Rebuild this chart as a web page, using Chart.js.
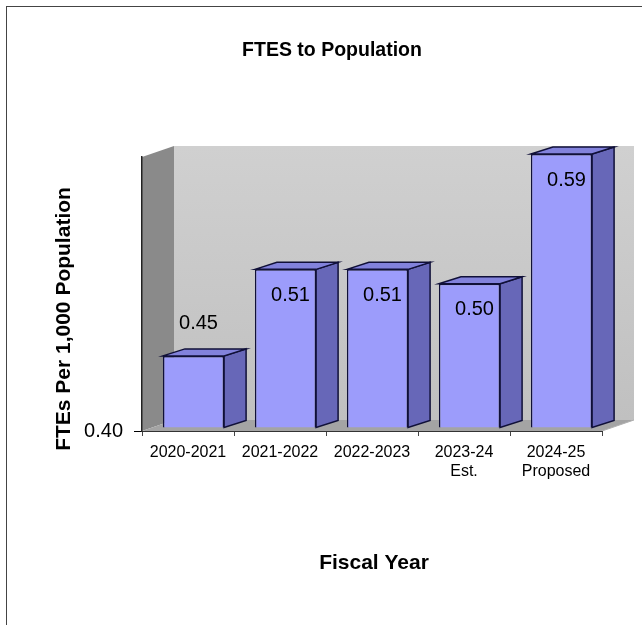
<!DOCTYPE html>
<html>
<head>
<meta charset="utf-8">
<script src="https://cdn.jsdelivr.net/npm/chart.js@4/dist/chart.umd.min.js"></script>
<style>
  html, body { margin: 0; padding: 0; background: #fff; overflow: hidden; }
  #frame { position: absolute; left: 6px; top: 6px; width: 700px; height: 700px; border: 1px solid #444; }
  #wrap { position: absolute; left: 0; top: 0; width: 642px; height: 625px; }
</style>
</head>
<body>
<div id="frame"></div>
<div id="wrap"><canvas id="chartftepopulation" width="642" height="625"></canvas></div>
<script>
var years = ['2020-2021', '2021-2022', '2022-2023', ['2023-24', 'Est.'], ['2024-25', 'Proposed']];
var ftes = [0.45, 0.51, 0.51, 0.50, 0.59];
var yTicks = [0.40];
var yMin = 0.40;
var yMax = 0.59;
var chartTitle = 'FTES to Population';
var yTitle = 'FTEs Per 1,000 Population';
var xTitle = 'Fiscal Year';

var fam = '"Liberation Sans", Arial, sans-serif';
var wall = { dx: 32, dy: -11 };
var box = { dx: 22, dy: -7, sx: 5.5, sy: -3 };

function poly(ctx, pts, fill, stroke) {
    ctx.beginPath();
    ctx.moveTo(pts[0][0], pts[0][1]);
    for (var i = 1; i < pts.length; i++) ctx.lineTo(pts[i][0], pts[i][1]);
    ctx.closePath();
    if (fill) { ctx.fillStyle = fill; ctx.fill(); }
    if (stroke) { ctx.strokeStyle = stroke; ctx.lineWidth = 1.5; ctx.stroke(); }
}

// walls, floor, bar sides and tops, labels, titles
const threeD = {
    id: 'threeD',
    beforeDraw: function(chart) {
        const ctx = chart.ctx, a = chart.chartArea;
        ctx.save();
        var g = ctx.createLinearGradient(0, a.top + wall.dy, 0, a.bottom + wall.dy);
        g.addColorStop(0, '#d0d0d0');
        g.addColorStop(1, '#c0c0c0');
        ctx.fillStyle = g;
        ctx.fillRect(a.left + wall.dx, a.top + wall.dy, a.right - a.left, a.bottom - a.top);
        poly(ctx, [[a.left, a.top], [a.left + wall.dx, a.top + wall.dy], [a.left + wall.dx, a.bottom + wall.dy], [a.left, a.bottom]], '#8a8a8a');
        poly(ctx, [[a.left, a.bottom], [a.right, a.bottom], [a.right + wall.dx, a.bottom + wall.dy], [a.left + wall.dx, a.bottom + wall.dy]], '#a4a4a4');
        ctx.strokeStyle = '#b0b0b0';
        ctx.lineWidth = 1;
        ctx.beginPath();
        ctx.moveTo(a.right, a.bottom);
        ctx.lineTo(a.right + wall.dx, a.bottom + wall.dy);
        ctx.stroke();
        ctx.restore();
    },
    beforeDatasetsDraw: function(chart) {
        chart.ctx.save();
        chart.ctx.translate(box.sx, box.sy);
    },
    afterDatasetsDraw: function(chart) {
        const ctx = chart.ctx;
        const bars = chart.getDatasetMeta(0).data;
        bars.forEach(function(b) {
            const p = b.getProps(['x', 'y', 'base', 'width'], true);
            const l = p.x - p.width / 2, r = p.x + p.width / 2;
            poly(ctx, [[r, p.y], [r + box.dx, p.y + box.dy], [r + box.dx, p.base + box.dy], [r, p.base]], '#6767b8', '#101038');
            poly(ctx, [[l, p.y], [l + box.dx, p.y + box.dy], [r + box.dx, p.y + box.dy], [r, p.y]], '#8282dc', '#101038');
        });
        ctx.restore();

        ctx.save();
        ctx.fillStyle = '#000';
        ctx.font = '20px ' + fam;
        ctx.textAlign = 'center';
        ctx.textBaseline = 'middle';
        bars.forEach(function(b, i) {
            const p = b.getProps(['x', 'y', 'base'], true);
            const top = p.y + box.sy;
            const ly = (p.base - p.y) < 100 ? top - 32 : top + 26;
            ctx.fillText(ftes[i].toFixed(2), p.x + box.sx + 5, ly);
        });
        ctx.restore();
    },
    afterDraw: function(chart) {
        const ctx = chart.ctx;
        ctx.save();
        ctx.fillStyle = '#000';
        ctx.textAlign = 'center';
        ctx.textBaseline = 'alphabetic';
        ctx.font = 'bold 19.5px ' + fam;
        ctx.fillText(chartTitle, 332, 56);
        ctx.font = 'bold 21px ' + fam;
        ctx.fillText(xTitle, 374, 569);
        ctx.translate(70, 319);
        ctx.rotate(-Math.PI / 2);
        ctx.font = 'bold 21px ' + fam;
        ctx.fillText(yTitle, 0, 0);
        ctx.restore();
    }
};

const dt = {
    labels: years,
    datasets: [{
        label: 'FTEs',
        data: ftes,
        base: yMin,
        backgroundColor: '#9c9cfb',
        borderColor: '#101038',
        borderWidth: 1.5,
        categoryPercentage: 1,
        barPercentage: 0.665,
        clip: false
    }]
};

const config_chartftepopulation = {
    type: 'bar',
    data: dt,
    plugins: [threeD],
    options: {
        responsive: false,
        animation: false,
        layout: { padding: { top: 157, right: 40, left: 0, bottom: 0 } },
        plugins: {
            legend: { display: false },
            title: { display: false },
            tooltip: { enabled: false }
        },
        scales: {
            x: {
                grid: { drawOnChartArea: false, drawTicks: true, tickLength: 5, color: '#444', offset: true },
                border: { display: true, color: '#333', width: 1 },
                ticks: { color: '#000', padding: 7, font: { family: fam, size: 16, lineHeight: 1.2 }, maxRotation: 0, autoSkip: false },
                afterFit: function(scale) { scale.height = 194; }
            },
            y: {
                min: yMin,
                max: yMax,
                afterBuildTicks: function(scale) {
                    scale.ticks = yTicks.map(function(v) { return { value: v }; });
                },
                grid: { drawOnChartArea: false, drawTicks: true, tickLength: 8, color: '#000' },
                border: { display: true, color: '#222', width: 1.5 },
                ticks: {
                    color: '#000',
                    padding: 11,
                    font: { family: fam, size: 20 },
                    callback: function(v) { return Number(v).toFixed(2); }
                },
                afterFit: function(scale) { scale.width = 142; }
            }
        }
    }
};

const chartftepopulation = new Chart(
    document.getElementById('chartftepopulation'),
    config_chartftepopulation
);
</script>
</body>
</html>
